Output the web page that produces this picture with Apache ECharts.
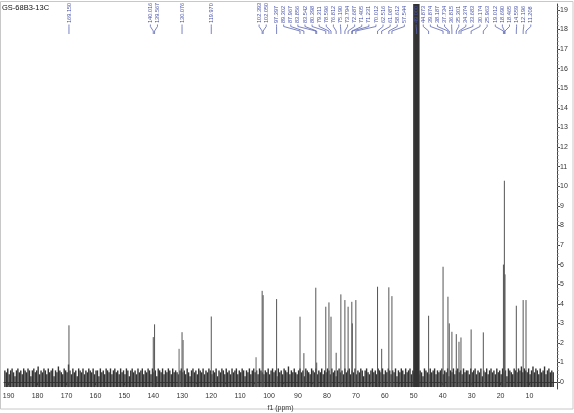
<!DOCTYPE html>
<html><head><meta charset="utf-8">
<script src="https://cdn.jsdelivr.net/npm/echarts@6/dist/echarts.min.js"></script>
<style>html,body{margin:0;padding:0;background:#fff}#c{width:574px;height:413px}</style>
</head><body><div id="c"></div>
<script>
// ---------------- data ----------------
const chartTitle = 'GS-68B3-13C';
const axisName = 'f1 (ppm)';
const xTickLabels = [190,180,170,160,150,140,130,120,110,100,90,80,70,60,50,40,30,20,10];
const yTickLabels = [0,1,2,3,4,5,6,7,8,9,10,11,12,13,14,15,16,17,18,19];

// labelled peaks (ppm, intensity, label text)
const peakPpm = [169.150,140.016,139.567,130.076,119.970,102.393,102.050,97.397,
  89.302,87.967,83.856,83.542,80.398,79.311,78.596,76.812,75.190,73.794,72.687,71.405,71.231,70.012,
  62.516,61.087,58.612,57.544,49.000,
  44.873,39.874,38.187,37.734,36.815,35.301,34.374,33.683,30.174,25.963,19.012,18.690,18.465,14.559,12.196,11.208];
const peakHeight = [2.9,2.3,2.95,2.55,3.35,4.66,4.44,4.24,
  3.34,1.48,4.82,1.0,3.85,4.07,3.34,1.5,4.48,4.19,3.85,4.10,3.0,4.19,
  4.87,1.7,4.84,4.39,40,
  3.39,5.89,4.36,3.0,2.57,2.45,2.06,2.28,2.69,2.54,6.0,10.28,5.5,3.9,4.19,4.19];
const peakLabel = ['169.150','140.016','139.567','130.076','119.970','102.393','102.050','97.397',
  '89.302','87.967','83.856','83.542','80.398','79.311','78.596','76.812','75.190','73.794','72.687','71.405','71.231','70.012',
  '62.516','61.087','58.612','57.544','49.000',
  '44.873','39.874','38.187','37.734','36.815','35.301','34.374','33.683','30.174','25.963','19.012','18.690','18.465','14.559','12.196','11.208'];

// small unlabelled peaks
const minorPpm = [131.1,129.7,104.5];
const minorHeight = [1.7,2.15,1.27];

// solvent multiplet (off scale)
const solventPpm = [49.9,49.5,49.1,48.7,48.3];
const solventHeight = [40,40,40,40,40];

// baseline noise, one value every 0.5 ppm from 191.3 ppm
const noiseStart = 191.3, noiseStep = 0.5;
const noise = [
.6,.5,.7,.4,.6,.7,.5,.3,.6,.7,.5,.6,.4,.7,.6,.5,.7,.6,.3,.6,
.7,.5,.6,.8,.4,.6,.5,.7,.6,.4,.7,.5,.6,.7,.3,.6,.5,.8,.6,.5,
.4,.7,.6,.5,.9,.6,.4,.7,.5,.6,.3,.7,.6,.5,.7,.4,.6,.5,.7,.6,
.5,.7,.4,.6,.6,.3,.7,.5,.6,.4,.7,.6,.5,.7,.4,.6,.7,.5,.6,.4,
.7,.5,.6,.4,.7,.6,.3,.6,.7,.5,.6,.4,.7,.5,.6,.7,.4,.6,.5,.7,
.6,.4,.7,.5,.6,.3,.7,.6,.5,.7,.4,.6,.5,.7,.6,.4,.7,.5,.6,.5,
.4,.6,.7,.5,.6,.4,.7,.5,.3,.6,.7,.5,.6,.4,.7,.6,.5,.7,.4,.6,
.5,.7,.6,.4,.6,.5,.7,.3,.6,.5,.7,.6,.4,.7,.5,.6,.4,.7,.5,.6,
.7,.4,.6,.5,.7,.6,.3,.6,.5,.7,.4,.6,.7,.5,.6,.4,.7,.6,.5,.4,
.6,.5,.7,.4,.6,.7,.5,.6,.3,.7,.5,.6,.4,.7,.6,.5,.8,.4,.6,.5,
.7,.5,.4,.6,.7,.5,.6,.3,.7,.6,.5,.4,.7,.6,.5,.7,.4,.6,.5,.7,
.4,.6,.5,.7,.6,.4,.7,.5,.6,.3,.6,.7,.5,.6,.4,.7,.5,.6,.7,.4,
.6,.5,.7,.4,.6,.5,.7,.6,.3,.6,.7,.5,.4,.6,.7,.5,.6,.4,.7,.6,
.5,.7,.4,.6,.5,.7,.6,.4,.6,.5,.7,.3,.6,.5,.7,.6,.4,.7,.5,.6,
.7,.4,.6,.5,.7,.6,.4,.6,.5,.3,.7,.6,.5,.4,.7,.5,.6,.7,.4,.6,
.5,.6,.7,.4,.6,.5,.7,.3,.6,.5,.7,.4,.6,.7,.5,.6,.4,.7,.5,.6,
.6,.4,.7,.5,.6,.7,.4,.6,.5,.7,.3,.6,.5,.7,.4,.6,.7,.5,.6,.4,
.7,.5,.6,.4,.7,.5,.6,.3,.7,.6,.5,.4,.7,.6,.5,.7,.6,.8,.5,.7,
.6,.5,.7,.4,.6,.8,.5,.7,.6,.4,.7,.5,.6,.8,.4,.6,.7,.5,.6,.5
];
const baseLevel = -0.25;

// ---------------- build ----------------
const noiseData = noise.map((v,i)=>[noiseStart - i*noiseStep, v]);
const peakData = peakPpm.map((p,i)=>[p, peakHeight[i]]);
const minorData = minorPpm.map((p,i)=>[p, minorHeight[i]]);
const solventData = solventPpm.map((p,i)=>[p, solventHeight[i]]);

const xMinorTicks = []; for (let v=5; v<=190; v+=5) xMinorTicks.push(v);
const yMinorTicks = []; for (let k=0; k<=96; k++) yMinorTicks.push(+(k*0.2).toFixed(1));

function strokeRenderer(color, width){
  return function(params, api){
    const x = api.value(0), h = api.value(1);
    const p1 = api.coord([x, baseLevel]);
    const p2 = api.coord([x, h]);
    return {type:'line', shape:{x1:p1[0],y1:p1[1],x2:p2[0],y2:p2[1]},
      style:{stroke:color, lineWidth:width}};
  };
}

function layoutLabels(xs, gap){
  let clusters = xs.map((x,i)=>({start:i,end:i,center:x}));
  let changed = true;
  while(changed){
    changed = false;
    for (let k=0;k<clusters.length-1;k++){
      const a=clusters[k], b=clusters[k+1];
      const aRight = a.center + (a.end-a.start)*gap/2;
      const bLeft = b.center - (b.end-b.start)*gap/2;
      if (bLeft - aRight < gap){
        let sum=0; for(let i=a.start;i<=b.end;i++) sum+=xs[i];
        clusters.splice(k,2,{start:a.start,end:b.end,center:sum/(b.end-a.start+1)});
        changed = true; break;
      }
    }
  }
  const out=[];
  clusters.forEach(c=>{const n=c.end-c.start+1; for(let i=0;i<n;i++) out[c.start+i]=c.center+(i-(n-1)/2)*gap;});
  return out;
}

function labelRenderer(params, api){
  const xs = peakPpm.map(p=>api.coord([p,0])[0]);
  const lx = layoutLabels(xs, 7.1);
  const i = params.dataIndex;
  const px = xs[i], x = lx[i];
  return {type:'group', children:[
    {type:'text', x:x, y:23, rotation:Math.PI/2,
      style:{text:peakLabel[i], fontSize:5.6, fontFamily:'Liberation Sans', fill:'#4650a8',
        align:'left', verticalAlign:'middle'}},
    {type:'polyline', shape:{points:[[x,24.5],[x,26.5],[px,31],[px,34]]},
      style:{stroke:'#5a64b4', fill:null, lineWidth:0.8}}
  ]};
}

const axisFont = {fontSize:7, fontFamily:'Liberation Sans', color:'#333'};

const option = {
  backgroundColor:'#fff',
  animation:false,
  title:{text:chartTitle, left:2, top:4, padding:0, textStyle:{fontSize:7.5, fontWeight:'normal', fontFamily:'Liberation Sans', color:'#111'}},
  grid:{left:4, right:17, top:4, bottom:24, containLabel:false, outerBoundsMode:'none'},
  xAxis:[{
    type:'value', inverse:true, min:0.5, max:191.6,
    name:axisName, nameLocation:'middle', nameGap:14,
    nameTextStyle:{fontSize:7, fontFamily:'Liberation Sans', color:'#333'},
    axisLine:{show:true, lineStyle:{color:'#444', width:1}},
    axisTick:{show:true, length:3, customValues:xTickLabels, lineStyle:{color:'#444'}},
    axisLabel:Object.assign({customValues:xTickLabels, margin:4}, axisFont),
    splitLine:{show:false}
  },{
    type:'value', inverse:true, min:0.5, max:191.6, position:'bottom',
    axisLine:{show:false},
    axisTick:{show:true, length:2, customValues:xMinorTicks, lineStyle:{color:'#666'}},
    axisLabel:{show:false}, splitLine:{show:false}
  }],
  yAxis:[{
    type:'value', position:'right', min:-0.35, max:19.3,
    axisLine:{show:true, lineStyle:{color:'#444', width:1}},
    axisTick:{show:true, length:3, customValues:yTickLabels, lineStyle:{color:'#444'}},
    axisLabel:Object.assign({customValues:yTickLabels, margin:3}, axisFont),
    splitLine:{show:false}
  },{
    type:'value', position:'right', min:-0.35, max:19.3,
    axisLine:{show:false},
    axisTick:{show:true, length:1.5, customValues:yMinorTicks, lineStyle:{color:'#777'}},
    axisLabel:{show:false}, splitLine:{show:false}
  }],
  graphic:[{type:'rect', shape:{x:0.5,y:1.5,width:572.5,height:407.5}, style:{fill:null, stroke:'#c8c8c8', lineWidth:1}, silent:true}],
  series:[
    {type:'custom', clip:true, renderItem:strokeRenderer('#333',1.4), data:noiseData, xAxisIndex:0, yAxisIndex:0},
    {type:'custom', clip:true, renderItem:strokeRenderer('#666',1), data:minorData, xAxisIndex:0, yAxisIndex:0},
    {type:'custom', clip:true, renderItem:strokeRenderer('#555',1), data:peakData, xAxisIndex:0, yAxisIndex:0},
    {type:'custom', clip:true, renderItem:strokeRenderer('#333',1.8), data:solventData, xAxisIndex:0, yAxisIndex:0},
    {type:'custom', clip:false, renderItem:labelRenderer, data:peakPpm.map(p=>[p,0]), xAxisIndex:0, yAxisIndex:0, z:5}
  ]
};
const chart = echarts.init(document.getElementById('c'), null, {renderer:'canvas'});
chart.setOption(option);
</script>
</body></html>
